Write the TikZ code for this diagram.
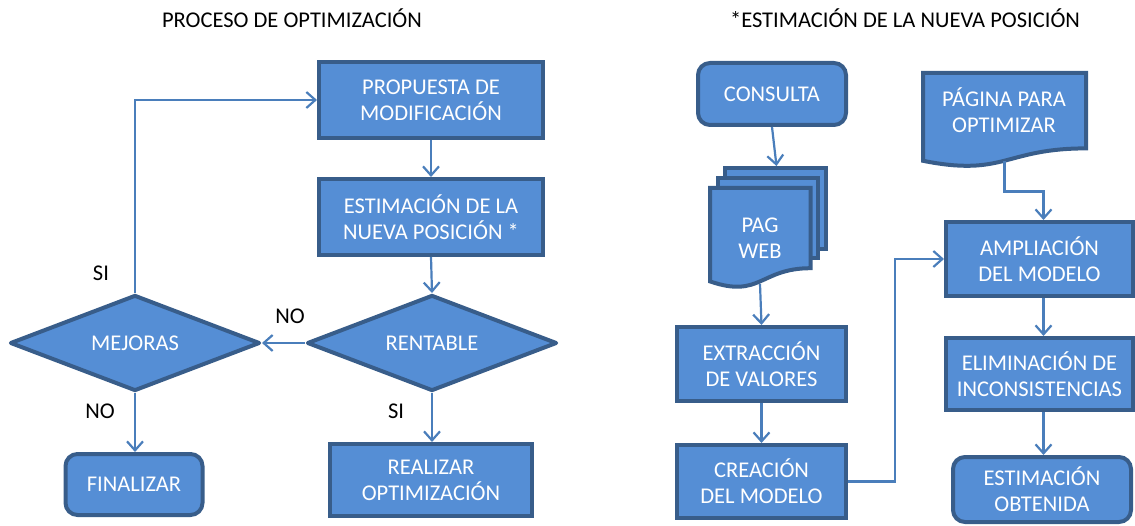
\documentclass[tikz,border=0pt]{standalone}
\usepackage{fontspec}
\setmainfont{Carlito}
\usetikzlibrary{shapes.geometric,arrows.meta}
\definecolor{fillc}{RGB}{85,142,213}
\definecolor{borderc}{RGB}{56,93,138}
\definecolor{linec}{RGB}{74,126,187}
\begin{document}
\begin{tikzpicture}[x=1pt,y=-1pt,
  txt/.style={font=\fontsize{22.5}{26}\selectfont},
  box/.style={txt, draw=borderc, fill=fillc, line width=4pt, text=white, align=center, inner sep=0pt},
  rbox/.style={box, rounded corners=12pt},
  dia/.style={box, diamond, aspect=2.6, line join=round, minimum width=250pt, minimum height=96pt},
  docst/.style={draw=borderc, fill=fillc, line width=4pt},
  conn/.style={draw=linec, line width=2.2pt, -{Straight Barb[length=9pt,width=16pt]}},
  lbl/.style={txt, text=black, inner sep=0pt},
  ]
\useasboundingbox (0,0) rectangle (1135,526);

% titles
\node[lbl] (t1) at (292,18) {PROCESO DE OPTIMIZACIÓN};
\node[lbl] (t2) at (905,18) {*ESTIMACIÓN DE LA NUEVA POSICIÓN};

% left flowchart
\node[box, minimum width=224pt, minimum height=76pt] (prop) at (431,100) {PROPUESTA DE\\MODIFICACIÓN};
\node[box, minimum width=224pt, minimum height=76pt] (est) at (431,217) {ESTIMACIÓN DE LA\\NUEVA POSICIÓN *};
\node[dia] (rent) at (432,343) {RENTABLE};
\node[dia] (mej) at (135,343) {MEJORAS};
\node[rbox, minimum width=137pt, minimum height=61pt] (fin) at (134,484.5) {FINALIZAR};
\node[box, minimum width=202pt, minimum height=72pt] (real) at (431,480) {REALIZAR\\OPTIMIZACIÓN};

\draw[conn] (prop.south) -- (est.north);
\draw[conn] (est.south) -- (rent.north);
\draw[conn] (rent.west) -- (mej.east);
\draw[conn] (mej.south) -- (mej.south |- fin.north);
\draw[conn] (rent.south) -- (rent.south |- real.north);
\draw[conn] (mej.north) |- (prop.west);

\node[lbl] (si1) at (101,273) {SI};
\node[lbl] (no1) at (290,316) {NO};
\node[lbl] (no2) at (100,411) {NO};
\node[lbl] (si2) at (396,411) {SI};

% right flowchart
\node[rbox, minimum width=148pt, minimum height=62pt] (cons) at (772,94) {CONSULTA};

% multi document
\draw[docst] (725,168) rectangle (826,249);
\draw[docst] (717.5,178) rectangle (818,258);
\draw[docst] (710,188) -- (810.5,188) -- (810.5,268.2)
  .. controls (760.25,268.2) and (760.25,298.75) .. (710,281.4) -- cycle;
\node[txt, text=white, align=center, inner sep=0pt] (pag) at (760,238) {PAG\\WEB};
\coordinate (pagtop) at (776.5,166);
\coordinate (pagbot) at (760,284);

% single document
\draw[docst] (923,73) -- (1086,73) -- (1086,148.4)
  .. controls (1004.5,148.4) and (1004.5,177.1) .. (923,160.8) -- cycle;
\node[txt, text=white, align=center, inner sep=0pt] (pg) at (1004,110.5) {PÁGINA PARA\\OPTIMIZAR};
\coordinate (pgbot) at (1004.5,160.7);
\coordinate (pgturn) at (1004.5,191.5);

\node[box, minimum width=169pt, minimum height=74pt] (extr) at (761.5,364) {EXTRACCIÓN\\DE VALORES};
\node[box, minimum width=169pt, minimum height=73pt] (crea) at (761.5,481.5) {CREACIÓN\\DEL MODELO};
\node[box, minimum width=187pt, minimum height=74pt] (ampl) at (1039.5,259) {AMPLIACIÓN\\DEL MODELO};
\node[box, minimum width=187pt, minimum height=72pt] (elim) at (1039.5,374) {ELIMINACIÓN DE\\INCONSISTENCIAS};
\node[rbox, minimum width=178pt, minimum height=65pt] (obt) at (1042,489.5) {ESTIMACIÓN\\OBTENIDA};
\coordinate (cturn) at (895,481.5);

\draw[conn] (cons.south) -- (pagtop);
\draw[conn] (pagbot) -- (extr.north);
\draw[conn] (extr.south) -- (crea.north);
\draw[conn] (crea.east) -- (cturn) |- (ampl.west);
\draw[conn] (pgbot) -- (pgturn) -| ([xshift=4pt]ampl.north);
\draw[conn] ([xshift=4pt]ampl.south) -- ([xshift=4pt]elim.north);
\draw[conn] ([xshift=4pt]elim.south) -- ([xshift=4pt]elim.south |- obt.north);
\end{tikzpicture}
\end{document}
